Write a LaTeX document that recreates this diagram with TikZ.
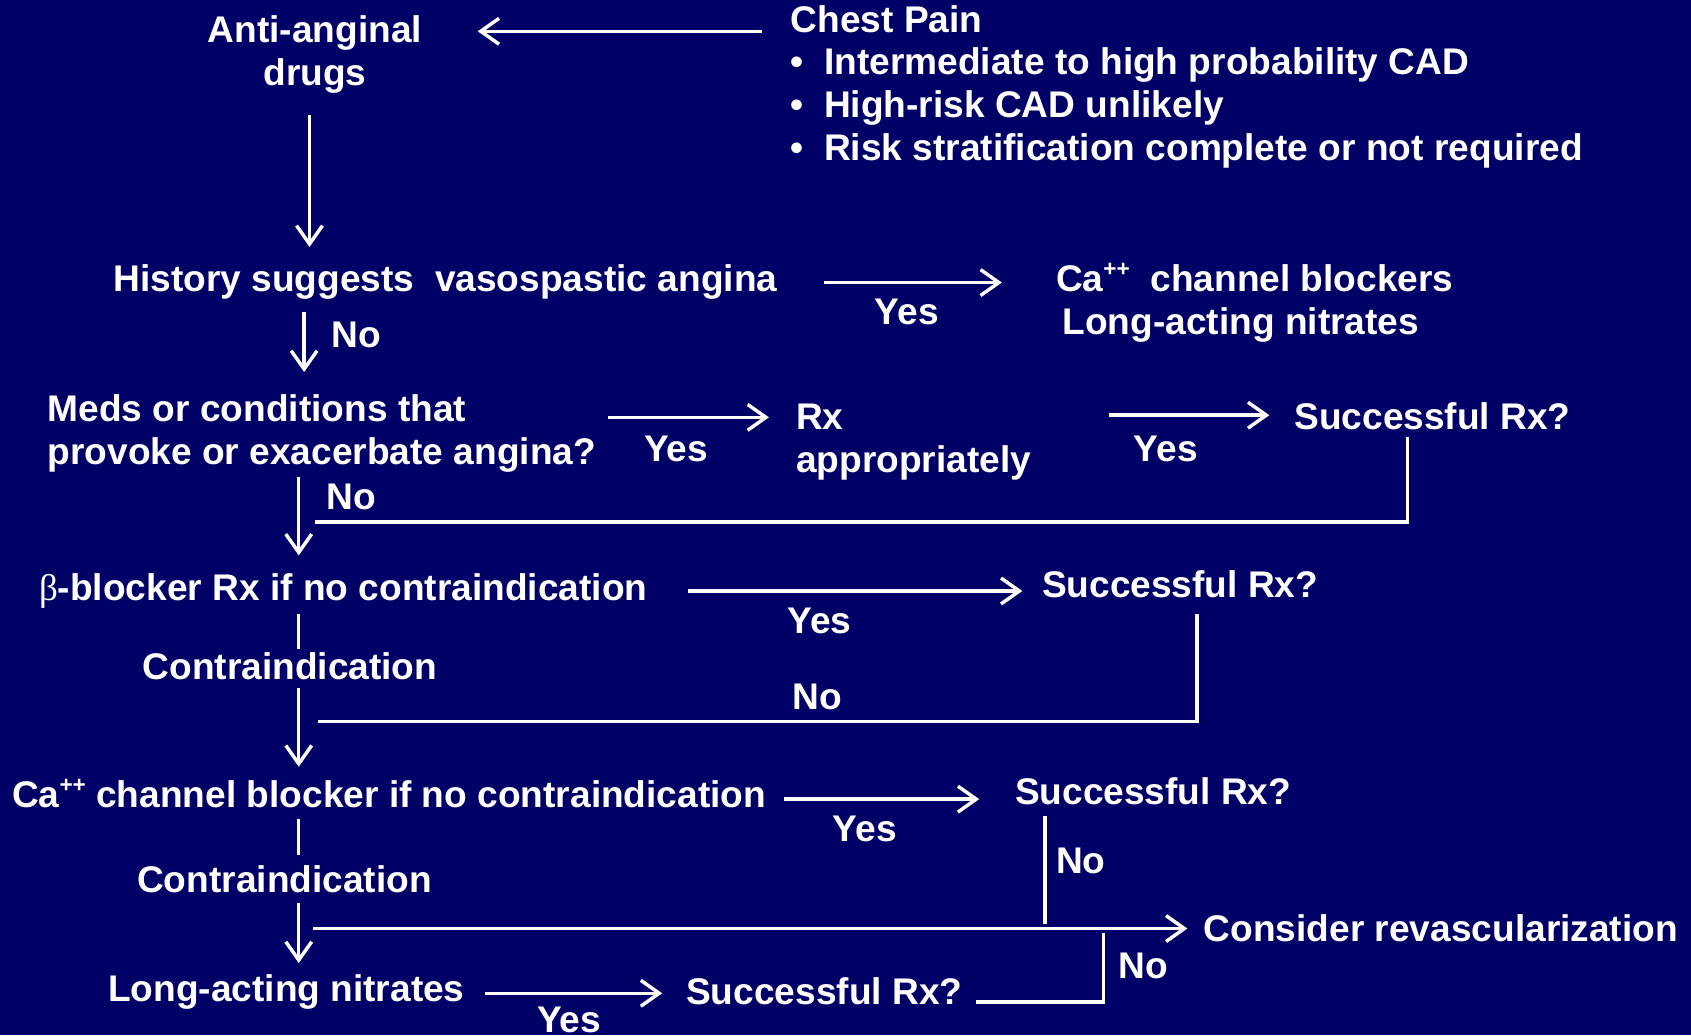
\documentclass[tikz,border=0pt]{standalone}
\usepackage{fontspec}
\setmainfont{Liberation Sans}
\newfontfamily\greekserif{Liberation Serif}
\usetikzlibrary{arrows.meta}
\definecolor{navybg}{RGB}{0,0,102}
\newcommand{\critbullet}{\makebox[31pt][l]{•}}
\newcommand{\plusplus}{\raisebox{0.40em}{\fontsize{21}{21}\selectfont\bfseries ++}}
\begin{document}
\begin{tikzpicture}[x=1pt,y=-1pt,
  txt/.style={text=white,font=\fontsize{34.4}{40}\selectfont\bfseries,inner sep=0pt,anchor=base west},
  conn/.style={draw=white,line width=3.2pt},
  arr/.style={conn,-{Straight Barb[length=17pt,width=24pt]}}]
\fill[navybg] (0,0) rectangle (1568,960);
\useasboundingbox (0,0) rectangle (1568,960);

% main texts (multi-line nodes: base anchor = baseline of the last line)
\node[txt,anchor=base,align=center] (anti) at (292,79) {Anti-anginal\\drugs};
\node[txt] (chest) at (733,30) {Chest Pain};
\node[txt,align=left] (crit) at (733,149) {\critbullet Intermediate to high probability CAD\\\critbullet High-risk CAD unlikely\\\critbullet Risk stratification complete or not required};
\node[txt] (hist) at (105,270) {History suggests\ \ vasospastic angina};
\node[txt,align=left] (ccb) at (979,310) {Ca\plusplus\ \ channel blockers\\\hspace{6pt}Long-acting nitrates};
\node[txt,align=left] (meds) at (44,431) {Meds or conditions that\\provoke or exacerbate angina?};
\node[txt,align=left] (rx) at (738,438) {Rx\\appropriately};
\node[txt] (succ1) at (1200,398) {Successful Rx?};
\node[txt] (beta) at (36,557) {{\greekserif\mdseries β}-blocker Rx if no contraindication};
\node[txt] (succ2) at (966,554) {Successful Rx?};
\node[txt] (cont1) at (132,630) {Contraindication};
\node[txt] (ca) at (11,749) {Ca\plusplus\ channel blocker if no contraindication};
\node[txt] (succ3) at (941,746) {Successful Rx?};
\node[txt] (cont2) at (127,828) {Contraindication};
\node[txt] (revasc) at (1116,873) {Consider revascularization};
\node[txt] (nitr) at (100,929) {Long-acting nitrates};
\node[txt] (succ4) at (636,931) {Successful Rx?};

% labels
\node[txt] (yes1) at (811,301) {Yes};
\node[txt] (no1) at (307,322) {No};
\node[txt] (yes2) at (597,428) {Yes};
\node[txt] (yes3) at (1051,428) {Yes};
\node[txt] (no2) at (303,472) {No};
\node[txt] (yes4) at (730,587) {Yes};
\node[txt] (no3) at (735,658) {No};
\node[txt] (yes5) at (772,780) {Yes};
\node[txt] (no4) at (979,810) {No};
\node[txt] (no5) at (1037,907) {No};
\node[txt] (yes6) at (498,957) {Yes};

% connector end points
\coordinate (chestOut) at (707,29);
\coordinate (antiIn) at (443,29);
\coordinate (antiOut) at (287,107);
\coordinate (histIn) at (287,229);
\coordinate (histYes) at (764,262);
\coordinate (ccbIn) at (929,262);
\coordinate (histNo) at (282,289);
\coordinate (medsIn) at (282,345);
\coordinate (medsYes) at (564,387);
\coordinate (rxIn) at (713,387);
\coordinate (rxOut) at (1028,385);
\coordinate (succ1In) at (1177,385);
\coordinate (succ1Out) at (1305,405);
\coordinate (succ1Turn) at (1305,484);
\coordinate (succ1End) at (292,484);
\coordinate (medsNo) at (277,442);
\coordinate (betaIn) at (277,515);
\coordinate (betaYes) at (638,548);
\coordinate (succ2In) at (948,548);
\coordinate (succ2Out) at (1110,569);
\coordinate (succ2Turn) at (1110,669);
\coordinate (succ2End) at (295,669);
\coordinate (betaDown) at (277,569);
\coordinate (betaStop) at (277,602);
\coordinate (cont1Out) at (277,638);
\coordinate (caIn) at (277,711);
\coordinate (caYes) at (727,741);
\coordinate (succ3In) at (908,741);
\coordinate (succ3Out) at (969,757);
\coordinate (succ3End) at (969,857);
\coordinate (caDown) at (277,759);
\coordinate (caStop) at (277,793);
\coordinate (cont2Out) at (277,837);
\coordinate (nitrIn) at (277,893);
\coordinate (revStart) at (290,861);
\coordinate (revIn) at (1101,861);
\coordinate (nitrYes) at (450,921);
\coordinate (succ4In) at (614,921);
\coordinate (succ4Out) at (905,929);
\coordinate (succ4Turn) at (1023,929);
\coordinate (succ4End) at (1023,865);

% connectors
\draw[arr] (chestOut) -- (antiIn);
\draw[arr] (antiOut) -- (histIn);
\draw[arr] (histYes) -- (ccbIn);
\draw[arr] (histNo) -- (medsIn);
\draw[arr] (medsYes) -- (rxIn);
\draw[arr] (rxOut) -- (succ1In);
\draw[conn] (succ1Out) -- (succ1Turn) -- (succ1End);
\draw[arr] (medsNo) -- (betaIn);
\draw[arr] (betaYes) -- (succ2In);
\draw[conn] (succ2Out) -- (succ2Turn) -- (succ2End);
\draw[conn] (betaDown) -- (betaStop);
\draw[arr] (cont1Out) -- (caIn);
\draw[arr] (caYes) -- (succ3In);
\draw[conn] (succ3Out) -- (succ3End);
\draw[conn] (caDown) -- (caStop);
\draw[arr] (cont2Out) -- (nitrIn);
\draw[arr] (revStart) -- (revIn);
\draw[arr] (nitrYes) -- (succ4In);
\draw[conn] (succ4Out) -- (succ4Turn) -- (succ4End);
\end{tikzpicture}
\end{document}
